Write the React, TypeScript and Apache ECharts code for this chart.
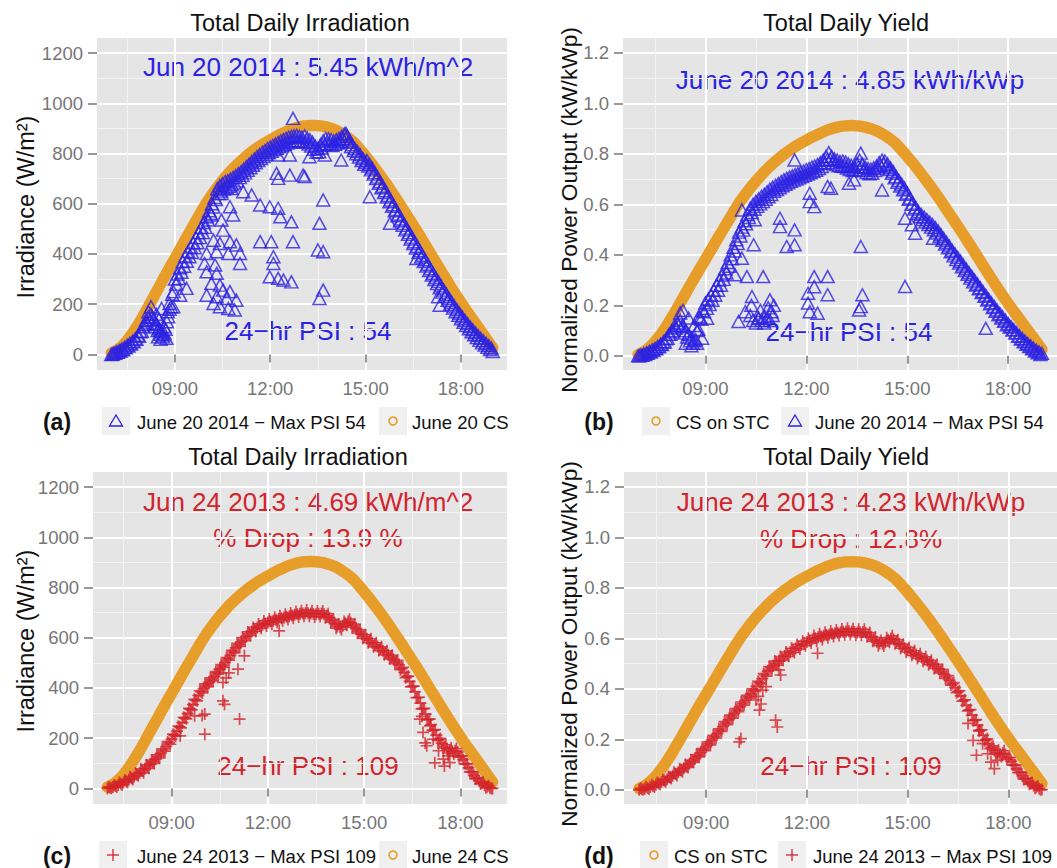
import React, { useEffect, useRef } from "react";
import * as echarts from "echarts";

const FONT = "'Liberation Sans', Arial, Helvetica, sans-serif";
const BLUE = "#2c22e2";
const RED = "#d3232b";
const ORANGE = "#e69d2a";
const PANEL_BG = "#e5e5e5";
const KEY_BG = "#f0f0f0";

// Clear-sky irradiance (W/m^2), every 10 minutes from 07:00 to 19:00
const csJun20 = [
  5, 16, 33, 56, 84, 116, 152, 190, 229, 268, 307, 345, 382, 420, 458, 495, 532, 569,
  605, 636, 665, 692, 717, 740, 761, 780, 798, 814, 829, 842, 854, 866, 877, 887, 896, 903,
  908, 911, 912, 911, 908, 903, 896, 886, 873, 858, 840, 815, 790, 763, 735, 706, 676, 645,
  613, 580, 547, 514, 480, 446, 411, 376, 341, 306, 272, 239, 207, 176, 146, 116, 86, 56, 26,
];
const csJun24 = [
  5, 16, 33, 55, 83, 115, 150, 188, 227, 265, 304, 342, 379, 416, 454, 491, 527, 564,
  599, 630, 659, 686, 710, 733, 754, 773, 790, 806, 821, 834, 846, 858, 869, 879, 888, 895,
  900, 903, 904, 903, 900, 895, 888, 878, 865, 850, 832, 808, 783, 756, 728, 700, 670, 639,
  607, 575, 542, 509, 476, 442, 407, 373, 338, 303, 270, 237, 205, 174, 145, 115, 85, 55, 25,
];

// Measured irradiance (W/m^2), every 5 minutes from 07:00 to 19:00
const irrJun20 = [
  0, 5, 10, 15, 22, 28, 36, 44, 52, 62, 75, 90,
  110, 135, 150, 160, 140, 120, 105, 90, 85, 130, 180, 240,
  300, 320, 345, 370, 392, 410, 428, 445, 465, 485, 505, 525,
  548, 572, 600, 625, 660, 672, 680, 688, 692, 698, 705, 712,
  720, 728, 738, 748, 758, 768, 778, 788, 796, 805, 812, 820,
  826, 832, 838, 844, 850, 855, 860, 865, 868, 870, 872, 868,
  865, 870, 862, 855, 845, 830, 820, 835, 850, 860, 858, 855,
  850, 855, 860, 868, 878, 870, 850, 835, 820, 808, 795, 780,
  765, 750, 735, 718, 700, 682, 664, 645, 627, 608, 590, 572,
  552, 532, 514, 496, 478, 460, 442, 424, 406, 388, 370, 352,
  334, 316, 298, 282, 265, 248, 232, 216, 200, 185, 170, 156,
  142, 128, 115, 102, 90, 78, 67, 56, 46, 37, 28, 20,
  12,
];
// Same day, readings in between (07:02:30 to 18:57:30, every 5 minutes)
const irrJun20Mid = [
  1, 5, 9, 14, 19, 26, 33, 41, 50, 60, 72, 92,
  118, 125, 135, 148, 110, 95, 80, 70, 100, 150, 190, 250,
  280, 302, 327, 351, 371, 389, 406, 425, 445, 465, 485, 506,
  535, 561, 587, 617, 641, 651, 659, 665, 670, 676, 683, 691,
  704, 713, 723, 733, 743, 753, 763, 772, 780, 788, 796, 803,
  809, 815, 821, 827, 832, 837, 842, 846, 849, 851, 850, 846,
  847, 846, 838, 830, 817, 805, 807, 822, 835, 839, 836, 832,
  837, 842, 849, 858, 859, 845, 827, 812, 799, 786, 772, 757,
  772, 757, 742, 724, 706, 688, 670, 652, 633, 615, 596, 577,
  558, 539, 521, 503, 485, 467, 449, 431, 413, 395, 377, 359,
  341, 323, 306, 290, 273, 256, 240, 224, 208, 193, 178, 164,
  150, 136, 123, 110, 98, 86, 75, 64, 54, 44, 35, 25,
];
const irrJun24 = [
  0, 3, 6, 10, 14, 19, 24, 29, 35, 41, 48, 55,
  62, 70, 78, 87, 96, 106, 117, 128, 140, 153, 167, 181,
  196, 212, 228, 245, 262, 280, 298, 316, 334, 352, 370, 385,
  398, 410, 422, 434, 446, 460, 474, 488, 502, 516, 530, 545,
  560, 572, 584, 595, 606, 616, 625, 633, 640, 647, 652, 657,
  661, 665, 668, 672, 675, 678, 681, 684, 686, 689, 692, 694,
  696, 697, 698, 698, 697, 695, 694, 696, 697, 694, 688, 680,
  668, 655, 645, 642, 648, 658, 665, 660, 648, 636, 624, 614,
  605, 596, 588, 580, 572, 565, 557, 548, 540, 532, 523, 514,
  504, 492, 478, 462, 445, 426, 406, 385, 362, 340, 318, 296,
  275, 254, 232, 212, 195, 180, 167, 157, 150, 148, 150, 145,
  130, 115, 98, 82, 66, 52, 40, 30, 21, 13, 7, 3,
  0,
];
const irrJun24Mid = [
  6, 1, 13, 6, 24, 14, 34, 24, 47, 36, 60, 50,
  78, 62, 94, 80, 113, 100, 134, 122, 158, 148, 186, 176,
  216, 208, 248, 241, 283, 277, 319, 313, 355, 349, 389, 380,
  416, 404, 440, 428, 465, 455, 493, 483, 521, 511, 550, 540,
  578, 566, 601, 588, 623, 609, 641, 625, 655, 638, 667, 647,
  675, 654, 682, 662, 688, 668, 694, 673, 699, 678, 705, 683,
  708, 686, 710, 686, 708, 683, 707, 685, 707, 680, 696, 662,
  673, 638, 655, 633, 665, 650, 674, 642, 654, 618, 631, 598,
  612, 580, 596, 564, 580, 549, 564, 532, 548, 516, 530, 497,
  510, 473, 482, 441, 447, 404, 407, 361, 363, 317, 319, 273,
  276, 231, 234, 191, 199, 161, 174, 141, 161, 137, 159, 125,
  130, 98, 98, 66, 67, 38, 43, 18, 25, 3, 11, 0,
];

// Normalized power output (kW/kWp), every 5 minutes from 07:00 to 19:00
const yieldJun20 = [
  0.0, 0.004, 0.008, 0.012, 0.018, 0.024, 0.03, 0.038, 0.046, 0.056, 0.068, 0.085,
  0.1, 0.12, 0.13, 0.14, 0.12, 0.1, 0.085, 0.07, 0.06, 0.1, 0.15, 0.18,
  0.21, 0.225, 0.24, 0.26, 0.28, 0.3, 0.32, 0.345, 0.37, 0.4, 0.43, 0.46,
  0.49, 0.51, 0.535, 0.56, 0.585, 0.6, 0.612, 0.622, 0.632, 0.64, 0.65, 0.66,
  0.668, 0.675, 0.682, 0.69, 0.697, 0.703, 0.708, 0.713, 0.718, 0.722, 0.727, 0.732,
  0.738, 0.742, 0.748, 0.752, 0.758, 0.765, 0.775, 0.79, 0.805, 0.79, 0.78, 0.775,
  0.77, 0.772, 0.768, 0.76, 0.755, 0.752, 0.762, 0.775, 0.76, 0.748, 0.742, 0.74,
  0.745, 0.752, 0.765, 0.775, 0.772, 0.76, 0.745, 0.73, 0.71, 0.695, 0.68, 0.665,
  0.645, 0.625, 0.605, 0.588, 0.572, 0.56, 0.55, 0.54, 0.53, 0.52, 0.508, 0.495,
  0.48, 0.465, 0.45, 0.435, 0.418, 0.404, 0.39, 0.375, 0.36, 0.345, 0.33, 0.315,
  0.3, 0.285, 0.27, 0.255, 0.24, 0.225, 0.21, 0.196, 0.182, 0.168, 0.155, 0.142,
  0.128, 0.116, 0.104, 0.092, 0.08, 0.069, 0.059, 0.049, 0.04, 0.031, 0.023, 0.016,
  0.01,
];
const yieldJun20Mid = [
  0.0, 0.002, 0.005, 0.01, 0.015, 0.021, 0.028, 0.036, 0.045, 0.055, 0.07, 0.085,
  0.095, 0.11, 0.12, 0.115, 0.09, 0.075, 0.06, 0.05, 0.065, 0.105, 0.145, 0.175,
  0.188, 0.203, 0.22, 0.24, 0.26, 0.28, 0.303, 0.328, 0.355, 0.385, 0.415, 0.445,
  0.475, 0.498, 0.523, 0.548, 0.568, 0.581, 0.592, 0.602, 0.611, 0.62, 0.63, 0.639,
  0.652, 0.659, 0.666, 0.674, 0.68, 0.686, 0.691, 0.696, 0.7, 0.705, 0.71, 0.715,
  0.72, 0.725, 0.73, 0.735, 0.742, 0.75, 0.763, 0.778, 0.778, 0.765, 0.758, 0.753,
  0.751, 0.75, 0.744, 0.738, 0.734, 0.737, 0.749, 0.748, 0.734, 0.725, 0.721, 0.723,
  0.734, 0.744, 0.755, 0.759, 0.751, 0.738, 0.723, 0.705, 0.688, 0.673, 0.658, 0.64,
  0.62, 0.6, 0.582, 0.565, 0.551, 0.54, 0.53, 0.52, 0.51, 0.499, 0.487, 0.473,
  0.458, 0.443, 0.428, 0.412, 0.396, 0.382, 0.368, 0.353, 0.338, 0.323, 0.308, 0.293,
  0.281, 0.266, 0.251, 0.236, 0.221, 0.206, 0.191, 0.177, 0.163, 0.15, 0.137, 0.123,
  0.114, 0.102, 0.09, 0.078, 0.067, 0.056, 0.046, 0.037, 0.028, 0.019, 0.012, 0.005,
];
const yieldJun24 = [
  0, 0.002, 0.004, 0.007, 0.011, 0.015, 0.02, 0.025, 0.03, 0.036, 0.042, 0.049,
  0.056, 0.063, 0.07, 0.078, 0.086, 0.094, 0.103, 0.113, 0.124, 0.135, 0.147, 0.159,
  0.171, 0.184, 0.197, 0.21, 0.223, 0.237, 0.251, 0.264, 0.277, 0.29, 0.303, 0.316,
  0.329, 0.342, 0.355, 0.368, 0.381, 0.395, 0.41, 0.425, 0.44, 0.455, 0.47, 0.483,
  0.493, 0.502, 0.511, 0.52, 0.53, 0.538, 0.545, 0.553, 0.56, 0.567, 0.574, 0.58,
  0.586, 0.592, 0.597, 0.601, 0.604, 0.607, 0.61, 0.613, 0.615, 0.618, 0.62, 0.622,
  0.624, 0.626, 0.627, 0.628, 0.627, 0.625, 0.623, 0.624, 0.625, 0.622, 0.615, 0.606,
  0.596, 0.587, 0.58, 0.579, 0.585, 0.595, 0.6, 0.596, 0.587, 0.578, 0.569, 0.561,
  0.555, 0.548, 0.542, 0.536, 0.53, 0.524, 0.518, 0.512, 0.505, 0.497, 0.489, 0.48,
  0.47, 0.459, 0.447, 0.434, 0.42, 0.405, 0.389, 0.372, 0.354, 0.335, 0.316, 0.296,
  0.276, 0.256, 0.236, 0.216, 0.198, 0.182, 0.168, 0.156, 0.147, 0.143, 0.145, 0.14,
  0.128, 0.113, 0.098, 0.083, 0.069, 0.056, 0.044, 0.034, 0.025, 0.017, 0.01, 0.005,
  0.001,
];
const yieldJun24Mid = [
  0.006, 0.0, 0.012, 0.003, 0.02, 0.011, 0.029, 0.021, 0.04, 0.032, 0.053, 0.045,
  0.07, 0.057, 0.084, 0.072, 0.1, 0.089, 0.118, 0.109, 0.14, 0.131, 0.163, 0.155,
  0.19, 0.178, 0.216, 0.205, 0.242, 0.232, 0.27, 0.258, 0.296, 0.284, 0.322, 0.31,
  0.348, 0.336, 0.374, 0.362, 0.4, 0.39, 0.43, 0.42, 0.46, 0.45, 0.488, 0.476,
  0.51, 0.494, 0.528, 0.513, 0.546, 0.529, 0.561, 0.544, 0.576, 0.558, 0.589, 0.571,
  0.601, 0.582, 0.611, 0.59, 0.618, 0.596, 0.624, 0.602, 0.629, 0.607, 0.633, 0.611,
  0.637, 0.614, 0.64, 0.615, 0.638, 0.612, 0.636, 0.612, 0.636, 0.606, 0.623, 0.589,
  0.604, 0.571, 0.592, 0.57, 0.602, 0.585, 0.61, 0.579, 0.595, 0.561, 0.577, 0.546,
  0.564, 0.533, 0.551, 0.521, 0.539, 0.509, 0.527, 0.496, 0.513, 0.481, 0.497, 0.463,
  0.477, 0.441, 0.453, 0.415, 0.425, 0.385, 0.393, 0.351, 0.357, 0.313, 0.318, 0.274,
  0.278, 0.234, 0.238, 0.195, 0.202, 0.163, 0.174, 0.14, 0.157, 0.132, 0.155, 0.122,
  0.128, 0.098, 0.098, 0.068, 0.07, 0.042, 0.047, 0.022, 0.029, 0.006, 0.015, 0.0,
];

// Cloud-affected readings: [time, value]
const dipsIrrJun20: [string, number][] = [
  ["10:28", 641], ["10:47", 661], ["11:09", 648], ["11:25", 635], ["11:41", 595], ["11:59", 588],
  ["12:15", 582], ["12:19", 548], ["12:40", 528], ["12:43", 449], ["12:02", 449], ["11:41", 449],
  ["12:06", 389], ["12:06", 362], ["11:59", 309], ["12:15", 303], ["12:25", 296], ["12:40", 289],
  ["12:12", 721], ["12:15", 701], ["12:37", 714], ["13:02", 714], ["12:15", 794], ["12:37", 794],
  ["12:43", 940], ["10:44", 588], ["10:50", 555], ["10:28", 535], ["10:09", 555], ["10:31", 495],
  ["10:13", 455], ["10:25", 442], ["10:44", 449], ["10:56", 436], ["11:03", 402], ["10:41", 402],
  ["10:19", 409], ["10:00", 402], ["09:56", 362], ["10:16", 356], ["11:03", 362], ["10:00", 329],
  ["10:19", 323], ["10:09", 283], ["10:25", 276], ["10:31", 256], ["10:44", 250], ["10:00", 236],
  ["10:19", 230], ["10:38", 223], ["10:56", 216], ["10:13", 203], ["10:25", 190], ["10:41", 183],
  ["10:53", 177], ["09:22", 263], ["09:10", 236], ["08:50", 203], ["08:35", 183], ["08:47", 170],
  ["08:57", 190], ["08:38", 77], ["08:32", 97], ["08:22", 123], ["08:44", 64], ["08:10", 170],
  ["08:15", 190], ["08:25", 160], ["08:30", 140], ["08:40", 110], ["08:28", 70], ["08:33", 60],
  ["13:14", 787], ["13:43", 794], ["14:14", 774], ["13:05", 708], ["13:40", 615], ["13:33", 522],
  ["13:30", 416], ["13:40", 409], ["13:40", 256], ["13:33", 223], ["15:08", 628], ["15:46", 522],
  ["16:36", 382], ["17:20", 196], ["17:17", 230], ["14:23", 880],
];
const dipsYieldJun20: [string, number][] = [
  ["11:39", 0.776], ["12:06", 0.644], ["12:06", 0.611], ["12:14", 0.591], ["12:38", 0.671],
  ["10:05", 0.578], ["10:28", 0.539], ["11:13", 0.545], ["11:13", 0.512], ["11:39", 0.499],
  ["11:25", 0.433], ["11:39", 0.44], ["10:26", 0.44], ["10:05", 0.387], ["09:53", 0.321],
  ["10:14", 0.314], ["10:43", 0.314], ["10:23", 0.235], ["10:55", 0.222], ["09:59", 0.136],
  ["10:11", 0.175], ["10:34", 0.149], ["10:46", 0.156], ["10:58", 0.175], ["08:48", 0.156],
  ["09:03", 0.149], ["08:54", 0.07], ["12:14", 0.314], ["12:38", 0.314], ["12:14", 0.274],
  ["12:03", 0.248], ["12:38", 0.242], ["12:03", 0.209], ["12:20", 0.169], ["12:06", 0.175],
  ["12:44", 0.664], ["13:16", 0.684], ["13:25", 0.697], ["13:37", 0.803], ["14:15", 0.657],
  ["14:56", 0.545], ["15:08", 0.519], ["15:14", 0.486], ["15:46", 0.466], ["13:37", 0.433],
  ["13:40", 0.242], ["13:37", 0.195], ["13:34", 0.182], ["14:56", 0.275], ["17:20", 0.109],
  ["10:20", 0.16], ["10:25", 0.14], ["10:30", 0.13], ["10:35", 0.15], ["10:40", 0.14],
  ["10:45", 0.13], ["10:50", 0.15], ["10:55", 0.14], ["11:00", 0.16], ["10:22", 0.2],
  ["10:38", 0.18], ["10:52", 0.19], ["11:02", 0.2], ["08:15", 0.17], ["08:20", 0.18],
  ["08:30", 0.15], ["08:40", 0.12], ["08:25", 0.05], ["08:35", 0.04], ["08:45", 0.05],
];
const dipsIrrJun24: [string, number][] = [
  ["10:02", 296], ["10:02", 216], ["10:36", 349], ["10:39", 335], ["11:07", 276], ["10:36", 422],
  ["10:30", 475], ["11:04", 475], ["11:16", 528], ["12:21", 627], ["09:16", 209], ["09:43", 289],
  ["09:57", 290], ["10:42", 440], ["10:47", 460], ["16:44", 276], ["16:50", 223], ["16:57", 170],
  ["17:03", 249], ["17:09", 196], ["17:19", 150], ["17:28", 117], ["17:37", 130], ["17:40", 103],
  ["16:48", 287], ["16:54", 181], ["17:12", 102], ["17:30", 89],
];
const dipsYieldJun24: [string, number][] = [
  ["12:19", 0.541], ["09:59", 0.19], ["10:02", 0.203], ["10:29", 0.356], ["10:35", 0.316],
  ["10:41", 0.395], ["10:47", 0.409], ["11:04", 0.276], ["11:07", 0.249], ["11:10", 0.475],
  ["11:13", 0.455], ["10:33", 0.37], ["10:38", 0.34], ["16:48", 0.263], ["16:57", 0.196],
  ["17:03", 0.137], ["17:08", 0.236], ["17:14", 0.183], ["17:23", 0.143], ["17:29", 0.11],
  ["17:35", 0.084], ["17:41", 0.117],
];

const hourTicks = [9, 12, 15, 18];
const hourMinor = [7.5, 10.5, 13.5, 16.5, 19.5];
const irrTicks = [0, 200, 400, 600, 800, 1000, 1200];
const irrMinor = [100, 300, 500, 700, 900, 1100];
const yieldTicks = [0, 0.2, 0.4, 0.6, 0.8, 1.0, 1.2];
const yieldMinor = [0.1, 0.3, 0.5, 0.7, 0.9, 1.1];

const toHours = (t: string) => {
  const [h, m] = t.split(":").map(Number);
  return h + m / 60;
};
const every5 = (vals: number[], startMin = 0) =>
  vals.map((v, i) => [7 + (startMin + i * 5) / 60, v]);
const every10 = (vals: number[]) => vals.map((v, i) => [7 + (i * 10) / 60, v]);
const stamped = (pts: [string, number][]) => pts.map(([t, v]) => [toHours(t), v]);
const toStc = (vals: number[]) => vals.map((v) => v / 1000);

const PLUS = "path://M6,0L6,12M0,6L12,6";

type Panel = {
  grid: { left: number; top: number; width: number; height: number };
  yMin: number;
  yMax: number;
  yTicks: number[];
  yMinor: number[];
  yFmt: (v: number) => string;
  cs: number[][];
  meas: number[][];
  symbol: string;
  color: string;
};

const panels: Panel[] = [
  {
    grid: { left: 97, top: 38, width: 410, height: 332 },
    yMin: -62, yMax: 1260, yTicks: irrTicks, yMinor: irrMinor, yFmt: (v) => String(v),
    cs: every10(csJun20),
    meas: [...every5(irrJun20), ...every5(irrJun20Mid, 2.5), ...stamped(dipsIrrJun20)],
    symbol: "triangle", color: BLUE,
  },
  {
    grid: { left: 623, top: 38, width: 437, height: 332 },
    yMin: -0.056, yMax: 1.259, yTicks: yieldTicks, yMinor: yieldMinor, yFmt: (v) => v.toFixed(1),
    cs: every10(toStc(csJun20)),
    meas: [...every5(yieldJun20), ...every5(yieldJun20Mid, 2.5), ...stamped(dipsYieldJun20)],
    symbol: "triangle", color: BLUE,
  },
  {
    grid: { left: 93, top: 472, width: 414, height: 332 },
    yMin: -62, yMax: 1260, yTicks: irrTicks, yMinor: irrMinor, yFmt: (v) => String(v),
    cs: every10(csJun24),
    meas: [...every5(irrJun24), ...every5(irrJun24Mid, 2.5), ...stamped(dipsIrrJun24)],
    symbol: PLUS, color: RED,
  },
  {
    grid: { left: 624, top: 472, width: 437, height: 332 },
    yMin: -0.056, yMax: 1.259, yTicks: yieldTicks, yMinor: yieldMinor, yFmt: (v) => v.toFixed(1),
    cs: every10(toStc(csJun24)),
    meas: [...every5(yieldJun24), ...every5(yieldJun24Mid, 2.5), ...stamped(dipsYieldJun24)],
    symbol: PLUS, color: RED,
  },
];

const tickGrey = "#767676";

function buildAxes() {
  const xAxis: any[] = [];
  const yAxis: any[] = [];
  panels.forEach((p, g) => {
    // minor grid lines
    xAxis.push({
      type: "value", gridIndex: g, position: "bottom", min: 6.55, max: 19.45,
      axisLine: { show: false }, axisLabel: { show: false },
      axisTick: { show: false, customValues: hourMinor },
      splitLine: { show: true, lineStyle: { color: "#f3f3f3", width: 1 } },
    });
    xAxis.push({
      type: "value", gridIndex: g, position: "bottom", min: 6.55, max: 19.45,
      axisLine: { show: false },
      axisTick: { show: true, customValues: hourTicks, length: 8, lineStyle: { color: tickGrey, width: 1.5 } },
      axisLabel: {
        customValues: hourTicks, margin: 9, color: tickGrey, fontSize: 18.5, fontFamily: FONT,
        formatter: (v: number) => `${String(v).padStart(2, "0")}:00`,
      },
      splitLine: { show: true, lineStyle: { color: "#ffffff", width: 2 } },
    });
    yAxis.push({
      type: "value", gridIndex: g, position: "left", min: p.yMin, max: p.yMax,
      axisLine: { show: false }, axisLabel: { show: false },
      axisTick: { show: false, customValues: p.yMinor },
      splitLine: { show: true, lineStyle: { color: "#f3f3f3", width: 1 } },
    });
    yAxis.push({
      type: "value", gridIndex: g, position: "left", min: p.yMin, max: p.yMax,
      axisLine: { show: false },
      axisTick: { show: true, customValues: p.yTicks, length: 9, lineStyle: { color: tickGrey, width: 1.5 } },
      axisLabel: {
        customValues: p.yTicks, margin: 14, color: tickGrey, fontSize: 18.5, fontFamily: FONT,
        formatter: (v: number) => p.yFmt(v),
      },
      splitLine: { show: true, lineStyle: { color: "#ffffff", width: 2 } },
    });
  });
  return { xAxis, yAxis };
}

function buildSeries() {
  const series: any[] = [];
  panels.forEach((p, g) => {
    const tri = p.symbol === "triangle";
    series.push({
      type: "line", xAxisIndex: 2 * g + 1, yAxisIndex: 2 * g + 1, data: p.cs,
      symbol: "none", smooth: 0.2, silent: true, z: 2,
      lineStyle: { color: ORANGE, width: 11.5, cap: "round", join: "round" },
    });
    series.push({
      type: "scatter", xAxisIndex: 2 * g + 1, yAxisIndex: 2 * g + 1, data: p.meas,
      symbol: p.symbol, symbolSize: tri ? [13, 12] : 12, silent: true, z: 3,
      itemStyle: { color: "rgba(0,0,0,0)", borderColor: p.color, borderWidth: tri ? 1.5 : 1.7 },
    });
  });
  return series;
}

const txt = (text: string, x: number, y: number, size: number, fill: string, extra: any = {}) => ({
  type: "text", x, y, silent: true,
  style: {
    text, fontSize: size, fontFamily: FONT, fill,
    align: extra.align ?? "center", verticalAlign: "middle", fontWeight: extra.weight ?? "normal",
  },
  rotation: extra.rotation ?? 0,
});

const keyBox = (x: number, y: number) => ({
  type: "rect", shape: { x, y, width: 28, height: 28 }, style: { fill: KEY_BG }, silent: true,
});
const triKey = (cx: number, cy: number) => ({
  type: "polygon", silent: true,
  shape: { points: [[cx, cy - 6], [cx - 6.5, cy + 5], [cx + 6.5, cy + 5]] },
  style: { fill: "none", stroke: BLUE, lineWidth: 1.3 },
});
const circleKey = (cx: number, cy: number) => ({
  type: "circle", silent: true, shape: { cx, cy, r: 4 },
  style: { fill: "none", stroke: ORANGE, lineWidth: 1.6 },
});
const plusKey = (cx: number, cy: number) => ({
  type: "group", silent: true,
  children: [
    { type: "line", shape: { x1: cx - 6, y1: cy, x2: cx + 6, y2: cy }, style: { stroke: RED, lineWidth: 1.3 } },
    { type: "line", shape: { x1: cx, y1: cy - 6, x2: cx, y2: cy + 6 }, style: { stroke: RED, lineWidth: 1.3 } },
  ],
});

function buildGraphics() {
  const els: any[] = [];
  const TITLE = 23.5;
  const NOTE = 26;
  const LEG = 18.5;
  // panel titles
  els.push(txt("Total Daily Irradiation", 300, 23, TITLE, "#111"));
  els.push(txt("Total Daily Yield", 846, 23, TITLE, "#111"));
  els.push(txt("Total Daily Irradiation", 298, 457, TITLE, "#111"));
  els.push(txt("Total Daily Yield", 846, 457, TITLE, "#111"));
  // axis titles
  els.push(txt("Irradiance (W/m²)", 26, 207, 23.5, "#111", { rotation: Math.PI / 2 }));
  els.push(txt("Normalized Power Output (kW/kWp)", 569, 210, 22.7, "#111", { rotation: Math.PI / 2 }));
  els.push(txt("Irradiance (W/m²)", 26, 641, 23.5, "#111", { rotation: Math.PI / 2 }));
  els.push(txt("Normalized Power Output (kW/kWp)", 569, 644, 22.7, "#111", { rotation: Math.PI / 2 }));
  // annotations
  els.push(txt("Jun 20 2014 : 5.45 kWh/m^2", 308, 67, NOTE, BLUE));
  els.push(txt("24−hr PSI : 54", 308, 331, NOTE, BLUE));
  els.push(txt("June 20 2014 : 4.85 kWh/kWp", 850, 80, NOTE, BLUE));
  els.push(txt("24−hr PSI : 54", 849, 332, NOTE, BLUE));
  els.push(txt("Jun 24 2013 : 4.69 kWh/m^2", 308, 502, NOTE, RED));
  els.push(txt("% Drop : 13.9 %", 308, 538, NOTE, RED));
  els.push(txt("24−hr PSI : 109", 308, 766, NOTE, RED));
  els.push(txt("June 24 2013 : 4.23 kWh/kWp", 851, 502, NOTE, RED));
  els.push(txt("% Drop : 12.8%", 851, 539, NOTE, RED));
  els.push(txt("24−hr PSI : 109", 851, 766, NOTE, RED));
  // legends
  const ly1 = 421;
  const ly2 = 855;
  els.push(txt("(a)", 57, ly1 + 1, 23, "#111", { weight: "bold" }));
  els.push(keyBox(102, ly1 - 14), triKey(116, ly1));
  els.push(txt("June 20 2014 − Max PSI 54", 137, ly1 + 1, LEG, "#111", { align: "left" }));
  els.push(keyBox(379, ly1 - 14), circleKey(393, ly1));
  els.push(txt("June 20 CS", 412, ly1 + 1, LEG, "#111", { align: "left" }));

  els.push(txt("(b)", 599, ly1 + 1, 23, "#111", { weight: "bold" }));
  els.push(keyBox(642, ly1 - 14), circleKey(656, ly1));
  els.push(txt("CS on STC", 676, ly1 + 1, LEG, "#111", { align: "left" }));
  els.push(keyBox(781, ly1 - 14), triKey(795, ly1));
  els.push(txt("June 20 2014 − Max PSI 54", 815, ly1 + 1, LEG, "#111", { align: "left" }));

  els.push(txt("(c)", 57, ly2 + 1, 23, "#111", { weight: "bold" }));
  els.push(keyBox(99, ly2 - 14), plusKey(113, ly2));
  els.push(txt("June 24 2013 − Max PSI 109", 137, ly2 + 1, LEG, "#111", { align: "left" }));
  els.push(keyBox(379, ly2 - 14), circleKey(393, ly2));
  els.push(txt("June 24 CS", 412, ly2 + 1, LEG, "#111", { align: "left" }));

  els.push(txt("(d)", 599, ly2 + 1, 23, "#111", { weight: "bold" }));
  els.push(keyBox(640, ly2 - 14), circleKey(654, ly2));
  els.push(txt("CS on STC", 674, ly2 + 1, LEG, "#111", { align: "left" }));
  els.push(keyBox(778, ly2 - 14), plusKey(792, ly2));
  els.push(txt("June 24 2013 − Max PSI 109", 813, ly2 + 1, LEG, "#111", { align: "left" }));
  return els;
}

export default function App() {
  const ref = useRef<HTMLDivElement>(null);
  useEffect(() => {
    if (!ref.current) return;
    const chart = echarts.init(ref.current, undefined, { renderer: "svg" });
    const { xAxis, yAxis } = buildAxes();
    chart.setOption({
      animation: false,
      backgroundColor: "#ffffff",
      textStyle: { fontFamily: FONT },
      grid: panels.map((p) => ({
        ...p.grid, show: true, backgroundColor: PANEL_BG, borderWidth: 0, containLabel: false,
      })),
      xAxis,
      yAxis,
      series: buildSeries(),
      graphic: { elements: buildGraphics() },
    });
    return () => chart.dispose();
  }, []);
  return (
    <div
      ref={ref}
      style={{ position: "absolute", left: 0, top: 0, width: 1057, height: 868, background: "#fff" }}
    />
  );
}
